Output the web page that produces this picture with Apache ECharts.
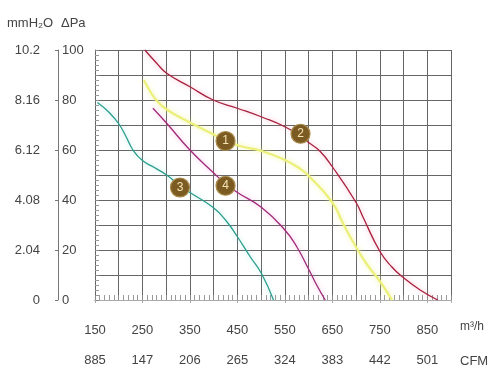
<!DOCTYPE html>
<html>
<head>
<meta charset="utf-8">
<script src="https://cdn.jsdelivr.net/npm/echarts@6/dist/echarts.min.js"></script>
<style>
html,body{margin:0;padding:0;background:#fff;}
#chart{width:495px;height:385px;}
</style>
</head>
<body>
<div id="chart"></div>
<script>
// ---- data ----
const flowLabels = ['150','250','350','450','550','650','750','850'];
const cfmLabels = ['885','147','206','265','324','383','442','501'];
const paLabels = ['0','20','40','60','80','100'];
const mmLabels = ['0','2.04','4.08','6.12','8.16','10.2'];

const curve1Flow = [253,266,280,301,350,399,425,455,501,550,582,601,650,673,699,722,750,776];
const curve1Pa   = [88,83.5,79.8,76.2,71,66.3,63.8,61.6,59.6,56,52.5,49.5,39,30.5,21.5,14.5,7.5,0];

const curve2Flow = [255,280,301,350,399,450,504,550,578,600,624,650,700,715,750,775,800,835,872];
const curve2Pa   = [100,94.7,90.7,85.3,80,76.7,73,69.3,66,63,59.5,53.3,39,33,19.5,13.3,8.9,4,0];

const curve3Flow = [155,180,200,215,230,250,275,301,325,350,399,427,450,477,501,526];
const curve3Pa   = [79,75,70.5,65.5,60,55.8,53,50,46.3,43,37,31.5,25.3,17.3,10.5,0];

const curve4Flow = [272,301,350,399,425,450,501,550,575,601,617,635];
const curve4Pa   = [76.7,70.7,60,51,46.5,43,37,28,21.3,12,6,0];

const markerNames = ['1','2','3','4'];
const markerFlow = [425,583,329,425];
const markerPa   = [63.6,66.5,45,45.7];

function zip(a,b){ return a.map((v,i)=>[v,b[i]]); }

const font = 'Liberation Sans';
const txt = '#444';

function curve(flow, pa, color, width, glow){
  return {
    type:'line', data: zip(flow,pa), smooth:0.5,
    symbol:'none', z:3,
    lineStyle:{color:color, width:width, shadowColor:glow, shadowBlur:5}
  };
}

const chart = echarts.init(document.getElementById('chart'));
chart.setOption({
  animation:false,
  backgroundColor:'#fff',
  grid:{left:95, top:50, width:356, height:250},
  xAxis:[{
    type:'value', min:150, max:900, interval:50,
    axisLine:{show:true, lineStyle:{color:'#666', width:1}},
    axisTick:{show:true, inside:true, length:5, lineStyle:{color:'#888'}},
    minorTick:{show:true, splitNumber:5, length:5, lineStyle:{color:'#999'}},
    splitLine:{show:true, lineStyle:{color:'#666', width:1}},
    axisLabel:{
      margin:24, color:txt, fontFamily:font, fontSize:13,
      formatter:function(v){ const i=(v-150)/100; return Number.isInteger(i)&&i<flowLabels.length ? flowLabels[i] : ''; }
    }
  },{
    type:'value', min:150, max:900, interval:100, position:'bottom', offset:43,
    axisLine:{show:true, lineStyle:{color:'#aaa', width:1}},
    axisTick:{show:true, length:3, lineStyle:{color:'#aaa'}},
    splitLine:{show:false},
    axisLabel:{
      margin:11, color:txt, fontFamily:font, fontSize:13,
      formatter:function(v){ const i=(v-150)/100; return Number.isInteger(i)&&i<cfmLabels.length ? cfmLabels[i] : ''; }
    }
  }],
  yAxis:[{
    type:'value', min:0, max:100, interval:10,
    axisLine:{show:true, lineStyle:{color:'#666', width:1}},
    axisTick:{show:true, inside:true, length:4, lineStyle:{color:'#888'}},
    minorTick:{show:true, splitNumber:5, length:4, lineStyle:{color:'#999'}},
    splitLine:{show:true, lineStyle:{color:'#666', width:1}},
    axisLabel:{show:false}
  },{
    type:'value', min:0, max:100, interval:20, position:'left', offset:37,
    axisLine:{show:true, lineStyle:{color:'#777', width:1}},
    axisTick:{show:true, length:3, lineStyle:{color:'#777'}},
    splitLine:{show:false},
    axisLabel:{
      inside:true, margin:4, color:txt, fontFamily:font, fontSize:13,
      formatter:function(v){ return paLabels[v/20]; }
    }
  },{
    type:'value', min:0, max:100, interval:20, position:'left', offset:50,
    axisLine:{show:false}, axisTick:{show:false}, splitLine:{show:false},
    axisLabel:{
      margin:5, color:txt, fontFamily:font, fontSize:13,
      formatter:function(v){ return mmLabels[v/20]; }
    }
  }],
  graphic:[
    {type:'text', left:7, top:17, style:{text:'mmH₂O', font:'13px "Liberation Sans"', fill:txt}},
    {type:'text', left:61, top:17, style:{text:'ΔPa', font:'13px "Liberation Sans"', fill:txt}},
    {type:'text', left:460, top:321, style:{text:'m³/h', font:'12px "Liberation Sans"', fill:txt}},
    {type:'text', left:460, top:355, style:{text:'CFM', font:'13px "Liberation Sans"', fill:txt}}
  ],
  series:[
    curve(curve1Flow, curve1Pa, '#ecf07a', 2.2, 'rgba(240,245,150,0.9)'),
    curve(curve2Flow, curve2Pa, '#a8203e', 1.3, 'rgba(240,120,150,0.6)'),
    curve(curve3Flow, curve3Pa, '#2a9d8c', 1.3, 'rgba(120,220,210,0.6)'),
    curve(curve4Flow, curve4Pa, '#a02a78', 1.3, 'rgba(230,120,200,0.6)'),
    {
      type:'scatter', z:5, symbolSize:19,
      data: markerNames.map((n,i)=>({name:n, value:[markerFlow[i], markerPa[i]]})),
      itemStyle:{color:'#7c5b22', borderColor:'#a88a4c', borderWidth:1.2, opacity:1},
      label:{show:true, position:'inside', formatter:'{b}', color:'#f4e4b4', fontFamily:font, fontSize:12}
    }
  ]
});
</script>
</body>
</html>
